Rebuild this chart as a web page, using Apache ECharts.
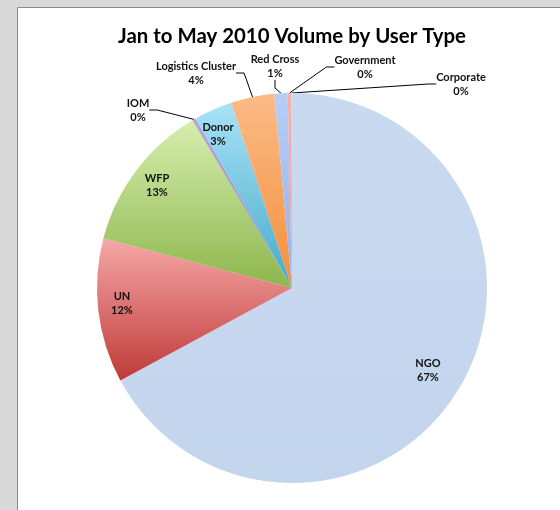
<!DOCTYPE html>
<html>
<head>
<meta charset="utf-8">
<title>Jan to May 2010 Volume by User Type</title>
<script src="https://cdn.jsdelivr.net/npm/echarts@6/dist/echarts.min.js"></script>
<style>
  html, body { margin: 0; padding: 0; background: #d9d9d9; }
  #chart { width: 560px; height: 510px; }
</style>
</head>
<body>
<div id="chart"></div>
<script>
// Share of volume by user type, Jan to May 2010 (percent)
const userTypes = ['NGO', 'UN', 'WFP', 'IOM', 'Donor', 'Logistics Cluster', 'Red Cross', 'Government', 'Corporate'];
const volumeShare = [67.3, 12.0, 12.4, 0.3, 3.2, 3.6, 1.1, 0.3, 0.05];

// Slice fills: [top colour, bottom colour] of each slice's vertical gradient
const sliceColors = [
  ['#c9daf0', '#c3d5ed'],
  ['#f5a8a7', '#bf3a38'],
  ['#d6eeae', '#8db64c'],
  ['#b6a6d6', '#9a86c2'],
  ['#a9e2f7', '#46aac8'],
  ['#fbbb86', '#f48e3c'],
  ['#b7cff6', '#93b1e6'],
  ['#f4b0ae', '#ee9c9a'],
  ['#d6eeae', '#8db64c']
];

// Slices whose labels sit inside the pie
const insideLabels = ['NGO', 'UN', 'WFP', 'Donor'];

// Label centres (layout)
const labelSpots = {
  'NGO': [428, 370],
  'UN': [122, 303],
  'WFP': [157, 185],
  'IOM': [138, 110],
  'Donor': [218, 134],
  'Logistics Cluster': [196, 73],
  'Red Cross': [275, 66],
  'Government': [365, 67],
  'Corporate': [461, 84]
};

const chart = echarts.init(document.getElementById('chart'), null, { renderer: 'canvas' });

const seriesData = userTypes.map((name, i) => {
  const inside = insideLabels.indexOf(name) >= 0;
  return {
    name: name,
    value: volumeShare[i],
    itemStyle: {
      color: new echarts.graphic.LinearGradient(0, 0, 0, 1, [
        { offset: 0, color: sliceColors[i][0] },
        { offset: 1, color: sliceColors[i][1] }
      ])
    },
    label: { position: inside ? 'inside' : 'outside' },
    labelLine: { show: !inside }
  };
});

chart.setOption({
  backgroundColor: '#d9d9d9',
  animation: false,
  graphic: [{
    type: 'rect',
    silent: true,
    z: -10,
    shape: { x: 17.5, y: 7.5, width: 600, height: 600 },
    style: { fill: '#ffffff', stroke: '#8a8a8a', lineWidth: 1 }
  }],
  title: {
    text: 'Jan to May 2010 Volume by User Type',
    left: 287,
    top: 21,
    textAlign: 'center',
    textStyle: {
      fontFamily: 'Lato',
      fontWeight: 'bold',
      fontSize: 20.4,
      color: '#000000'
    }
  },
  series: [{
    type: 'pie',
    center: [292, 288],
    radius: 195,
    startAngle: 90,
    clockwise: true,
    percentPrecision: 0,
    avoidLabelOverlap: false,
    minAngle: 0,
    itemStyle: { borderWidth: 0 },
    label: {
      show: true,
      formatter: '{b}\n{d}%',
      fontFamily: 'Lato',
      fontWeight: 'bold',
      fontSize: 11,
      lineHeight: 14,
      color: '#111111',
      align: 'center'
    },
    labelLine: {
      length: 8,
      length2: 8,
      lineStyle: { color: '#000000', width: 1 }
    },
    labelLayout: function (params) {
      const spot = labelSpots[userTypes[params.dataIndex]];
      return {
        x: spot[0],
        y: spot[1],
        align: 'center',
        verticalAlign: 'middle'
      };
    },
    emphasis: { disabled: true },
    data: seriesData
  }]
});
</script>
</body>
</html>
